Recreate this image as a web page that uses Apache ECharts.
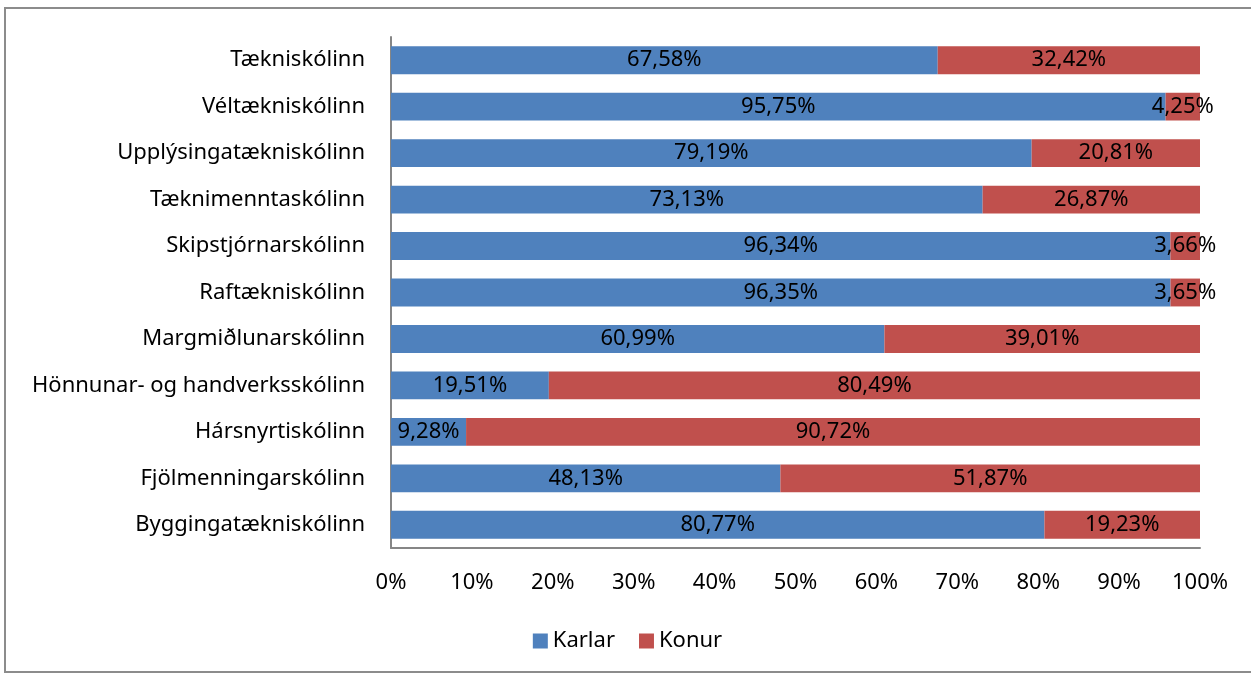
<!DOCTYPE html>
<html>
<head>
    <meta charset="utf-8" />
    <title>Karlar og konur</title>
    <script src="https://cdn.jsdelivr.net/npm/echarts@6/dist/echarts.min.js"></script>
    <style>
        body { margin: 0; background: #fff; }
        #frame { position: absolute; left: 4px; top: 7px; width: 1247px; height: 666px; border: 2px solid #8c8c8c; border-right: none; box-sizing: border-box; }
        #chart { position: absolute; left: 0; top: 0; width: 1255px; height: 675px; }
    </style>
</head>
<body>
    <div id="frame"></div>
    <div id="chart"></div>
    <script type="text/javascript">
        // skólar, efst fyrst
        var schools = ['Tækniskólinn', 'Véltækniskólinn', 'Upplýsingatækniskólinn', 'Tæknimenntaskólinn',
            'Skipstjórnarskólinn', 'Raftækniskólinn', 'Margmiðlunarskólinn', 'Hönnunar- og handverksskólinn',
            'Hársnyrtiskólinn', 'Fjölmenningarskólinn', 'Byggingatækniskólinn'];
        var karlar = [67.58, 95.75, 79.19, 73.13, 96.34, 96.35, 60.99, 19.51, 9.28, 48.13, 80.77];
        var konur = [32.42, 4.25, 20.81, 26.87, 3.66, 3.65, 39.01, 80.49, 90.72, 51.87, 19.23];

        var font = 'Noto Sans';
        var fmt = function (p) {
            return p.value.toFixed(2).replace('.', ',') + '%';
        };

        var myChart = echarts.init(document.getElementById('chart'));
        myChart.setOption({
            animation: false,
            textStyle: { fontFamily: font },
            grid: { left: 391, right: 55, top: 37, bottom: 127 },
            legend: {
                bottom: 18,
                left: 'center',
                itemWidth: 15,
                itemHeight: 15,
                itemGap: 24,
                icon: 'rect',
                textStyle: { fontSize: 22, color: '#000', fontFamily: font },
                data: ['Karlar', 'Konur']
            },
            xAxis: {
                type: 'value',
                min: 0,
                max: 100,
                interval: 10,
                axisLine: { show: true, lineStyle: { color: '#868686', width: 2 } },
                axisTick: { show: false },
                splitLine: { show: false },
                axisLabel: { formatter: '{value}%', fontSize: 22, color: '#000', margin: 24 }
            },
            yAxis: {
                type: 'category',
                inverse: true,
                data: schools,
                axisLine: { show: true, lineStyle: { color: '#868686', width: 2 } },
                axisTick: { show: false },
                axisLabel: { fontSize: 22, color: '#000', margin: 26 }
            },
            series: [{
                name: 'Karlar',
                type: 'bar',
                stack: 'total',
                barCategoryGap: '40%',
                itemStyle: { color: '#4F81BD' },
                label: { show: true, position: 'inside', formatter: fmt, color: '#000', fontSize: 22 },
                data: karlar
            }, {
                name: 'Konur',
                type: 'bar',
                stack: 'total',
                barCategoryGap: '40%',
                itemStyle: { color: '#C0504D' },
                label: { show: true, position: 'inside', formatter: fmt, color: '#000', fontSize: 22 },
                data: konur
            }]
        });
    </script>
</body>
</html>
